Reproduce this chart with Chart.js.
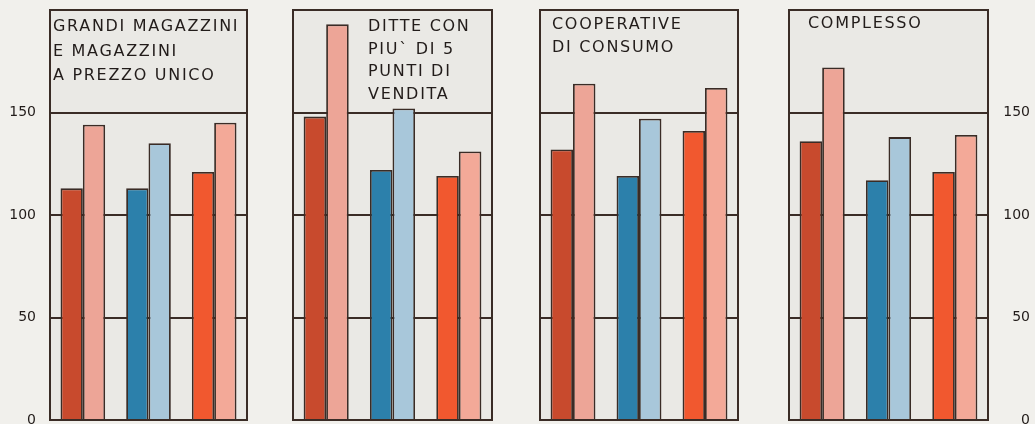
<!DOCTYPE html>
<html>
<head>
<meta charset="utf-8">
<script src="https://cdn.jsdelivr.net/npm/chart.js@4.4.1/dist/chart.umd.min.js"></script>
<style>
  html, body { margin: 0; padding: 0; background: #f1f0ec; }
  #wrap { position: relative; width: 1035px; height: 424px; overflow: hidden; background: #f1f0ec; }
  canvas { position: absolute; top: 0; }
</style>
</head>
<body>
<div id="wrap">
  <canvas id="c0"></canvas>
  <canvas id="c1"></canvas>
  <canvas id="c2"></canvas>
  <canvas id="c3"></canvas>
</div>
<script>
// ---- DATA ----
const panelTitles = [
  ["GRANDI MAGAZZINI", "E MAGAZZINI", "A PREZZO UNICO"],
  ["DITTE CON", "PIU` DI 5", "PUNTI DI", "VENDITA"],
  ["COOPERATIVE", "DI CONSUMO"],
  ["COMPLESSO"]
];
const groupLabels = ["1", "2", "3"];
// one value per panel, in panel order
const redDark     = [113, 148, 132, 136];
const redLight    = [144, 193, 164, 172];
const blueDark    = [113, 122, 119, 117];
const blueLight   = [135, 152, 147, 138];
const orangeDark  = [121, 119, 141, 121];
const orangeLight = [145, 131, 162, 139];
const yTicks = [0, 50, 100, 150];
const yMax = 200;

// ---- STYLE ----
const darkColors  = ["#c84a2d", "#2c80ab", "#f1582f"];
const lightColors = ["#eda597", "#a8c7da", "#f3a998"];
const inkColor = "#3a2c26";
const panelFill = "#eae9e5";
const pageFill = "#f1f0ec";
const layouts = [
  { left: 0,   width: 250, padL: 0, padR: 3, axis: "left",  axisW: 50 },
  { left: 290, width: 205, padL: 3, padR: 3, axis: "none",  axisW: 0 },
  { left: 537, width: 204, padL: 3, padR: 3, axis: "none",  axisW: 0 },
  { left: 786, width: 249, padL: 3, padR: 5, axis: "right", axisW: 42 }
];
const titleStyle = [
  { dx: 3,  y0: 31, lh: 24.5 },
  { dx: 75, y0: 31, lh: 22.6 },
  { dx: 12, y0: 29, lh: 23 },
  { dx: 19, y0: 28, lh: 23 }
];

const panelPlugin = {
  id: "panel",
  beforeDraw(chart) {
    const { ctx, chartArea: a } = chart;
    ctx.save();
    ctx.fillStyle = pageFill;
    ctx.fillRect(0, 0, chart.width, chart.height);
    ctx.fillStyle = panelFill;
    ctx.fillRect(a.left, a.top, a.right - a.left, a.bottom - a.top);
    ctx.restore();
  },
  afterDraw(chart, args, opts) {
    const { ctx, chartArea: a } = chart;
    ctx.save();
    ctx.strokeStyle = inkColor;
    ctx.lineWidth = 2;
    ctx.strokeRect(a.left, a.top, a.right - a.left, a.bottom - a.top);
    const ts = titleStyle[opts.index];
    ctx.fillStyle = "#221c1a";
    ctx.font = '16px "DejaVu Sans", sans-serif';
    ctx.letterSpacing = "1.7px";
    ctx.textBaseline = "alphabetic";
    ctx.textAlign = "left";
    panelTitles[opts.index].forEach((line, i) => {
      ctx.fillText(line, a.left + ts.dx, a.top + ts.y0 - 10 + i * ts.lh);
    });
    ctx.restore();
  }
};

function makeChart(i) {
  const L = layouts[i];
  const cv = document.getElementById("c" + i);
  cv.width = L.width; cv.height = 424;
  cv.style.left = L.left + "px";
  cv.style.width = L.width + "px"; cv.style.height = "424px";
  const dark = [redDark[i], blueDark[i], orangeDark[i]];
  const light = [redLight[i], blueLight[i], orangeLight[i]];
  new Chart(cv, {
    type: "bar",
    data: {
      labels: groupLabels,
      datasets: [
        { data: dark, backgroundColor: darkColors, borderColor: inkColor, borderWidth: 1.8,
          categoryPercentage: 0.68, barPercentage: 1.0 },
        { data: light, backgroundColor: lightColors, borderColor: inkColor, borderWidth: 1.8,
          categoryPercentage: 0.68, barPercentage: 1.0 }
      ]
    },
    plugins: [panelPlugin],
    options: {
      responsive: false,
      animation: false,
      devicePixelRatio: 1,
      layout: { autoPadding: false, padding: { top: 10, bottom: 4, left: L.padL, right: L.padR } },
      plugins: { legend: { display: false }, tooltip: { enabled: false }, panel: { index: i } },
      scales: {
        x: { display: false },
        y: {
          position: L.axis === "right" ? "right" : "left",
          min: 0, max: yMax,
          afterFit(s) {
            s.width = L.axisW;
            s.paddingTop = 0; s.paddingBottom = 0;
          },
          afterBuildTicks(s) { s.ticks = [0, 50, 100, 150, 200].map(v => ({ value: v })); },
          border: { display: false },
          grid: {
            drawTicks: false,
            lineWidth: 2,
            color: ctx => (yTicks.includes(ctx.tick.value) ? inkColor : "rgba(0,0,0,0)")
          },
          ticks: {
            display: L.axis !== "none",
            padding: 14,
            crossAlign: L.axis === "right" ? "far" : "near",
            color: "#221c1a",
            font: { family: '"DejaVu Sans", sans-serif', size: 14 },
            callback: v => (yTicks.includes(v) ? String(v) : "")
          }
        }
      }
    }
  });
}
for (let i = 0; i < 4; i++) makeChart(i);
</script>
</body>
</html>
